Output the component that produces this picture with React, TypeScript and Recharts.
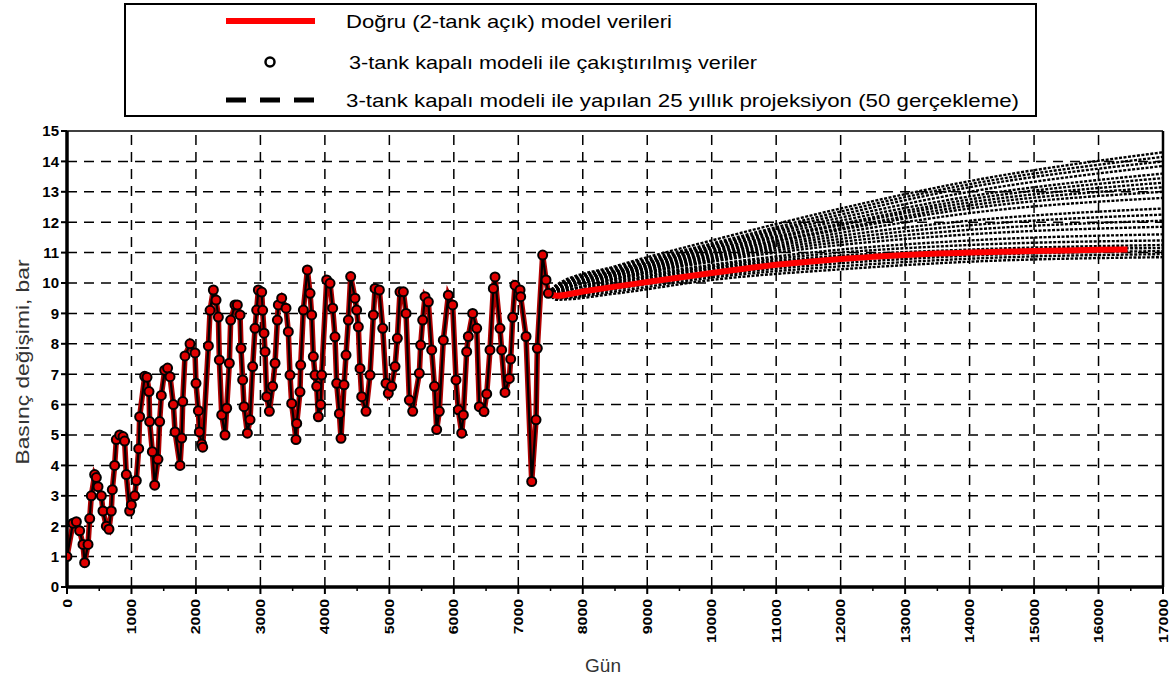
import React from 'react';
import { LineChart, Line, XAxis, YAxis, ReferenceLine } from 'recharts';

// ─── Data ─────────────────────────────────────────────────────────────────────

// history: days and pressure change (bar), true model + fitted points
const HISTORY_DAYS = [
  0, 93, 145, 196, 248, 274, 326, 352, 377, 429, 455, 481, 533, 558, 610, 651, 687, 703, 739, 765,
  817, 869, 894, 920, 972, 998, 1050, 1075, 1112, 1127, 1205, 1241, 1272, 1282, 1324, 1360, 1411, 1437, 1463, 1515,
  1560, 1598, 1650, 1676, 1753, 1779, 1795, 1830, 1908, 1986, 2001, 2038, 2053, 2089, 2105, 2193, 2219, 2270, 2312, 2348,
  2363, 2400, 2451, 2477, 2518, 2539, 2606, 2642, 2684, 2699, 2725, 2746, 2798, 2839, 2880, 2916, 2942, 2968, 3020, 3035,
  3056, 3072, 3097, 3139, 3190, 3227, 3263, 3278, 3330, 3397, 3433, 3459, 3485, 3552, 3563, 3614, 3625, 3666, 3728, 3770,
  3795, 3821, 3847, 3873, 3899, 3935, 3950, 4028, 4080, 4121, 4157, 4183, 4225, 4250, 4297, 4328, 4364, 4400, 4467, 4493,
  4519, 4545, 4571, 4638, 4700, 4752, 4778, 4845, 4897, 4948, 4984, 5036, 5088, 5124, 5165, 5217, 5259, 5310, 5362, 5465,
  5486, 5517, 5553, 5605, 5657, 5700, 5734, 5775, 5837, 5915, 5982, 6034, 6070, 6122, 6148, 6199, 6225, 6292, 6355, 6396,
  6468, 6510, 6561, 6613, 6639, 6716, 6742, 6794, 6861, 6882, 6913, 6949, 7027, 7037, 7120, 7208, 7275, 7295, 7378, 7430,
  7466,
];
const HISTORY_BAR = [
  1.0, 2.1, 2.15, 1.85, 1.4, 0.8, 1.4, 2.25, 3.0, 3.7, 3.6, 3.3, 3.0, 2.5, 2.0, 1.9, 2.5, 3.2, 4.0, 4.85,
  5.0, 4.95, 4.8, 3.7, 2.5, 2.7, 3.0, 3.5, 4.55, 5.6, 6.93, 6.9, 6.43, 5.44, 4.45, 3.35, 4.2, 5.44, 6.3, 7.13,
  7.2, 6.92, 6.0, 5.1, 4.0, 4.9, 6.1, 7.6, 8.0, 7.7, 6.7, 5.8, 5.1, 4.7, 4.6, 7.93, 9.1, 9.77, 9.44, 8.88,
  7.47, 5.66, 5.0, 5.88, 7.36, 8.78, 9.28, 9.28, 8.95, 7.85, 6.81, 5.93, 5.06, 5.5, 7.25, 8.51, 9.11, 9.77, 9.7, 9.1,
  8.35, 7.74, 6.26, 5.78, 6.6, 7.36, 8.78, 9.28, 9.5, 9.17, 8.4, 6.97, 6.04, 4.85, 5.38, 6.42, 7.3, 9.11, 10.43, 9.66,
  8.95, 7.58, 6.97, 6.6, 5.6, 6.0, 6.97, 10.1, 9.99, 9.17, 8.23, 6.7, 5.7, 4.89, 6.65, 7.63, 8.78, 10.21, 9.5, 9.11,
  8.56, 7.19, 6.26, 5.78, 6.97, 8.95, 9.82, 9.77, 8.51, 6.7, 6.37, 6.6, 7.25, 8.18, 9.71, 9.71, 9.0, 6.15, 5.78, 7.03,
  7.96, 8.78, 9.55, 9.38, 7.8, 6.6, 5.18, 5.78, 8.12, 9.6, 9.28, 6.81, 5.83, 5.06, 5.66, 7.74, 8.24, 9.0, 8.51, 5.93,
  5.77, 6.35, 7.8, 9.82, 10.2, 8.51, 7.8, 6.4, 6.86, 7.5, 8.87, 9.93, 9.77, 9.55, 8.24, 3.47, 5.5, 7.85, 10.92, 10.1,
  9.66,
];

// true (2-tank open) model after history
const TRUE_DAYS = [
  7466, 7600, 8000, 8500, 9000, 9500, 10000, 10500, 11000, 11500,
  12000, 12500, 13000, 13500, 14000, 14500, 15000, 15500, 16000, 16450,
];
const TRUE_BAR = [
  9.66, 9.58, 9.72, 9.88, 10.03, 10.18, 10.33, 10.47, 10.6, 10.7,
  10.79, 10.86, 10.92, 10.97, 11.0, 11.03, 11.05, 11.07, 11.09, 11.1,
];

// 3-tank closed model projections (realisations)
const PROJ_DAYS = [7466, 7600, 8500, 10000, 12000, 14000, 17000];
const PROJECTIONS = [
  [9.66, 9.95, 10.55, 11.4, 12.45, 13.35, 14.3],
  [9.66, 9.9, 10.5, 11.3, 12.35, 13.25, 14.15],
  [9.66, 9.9, 10.45, 11.25, 12.25, 13.15, 14.0],
  [9.66, 9.85, 10.4, 11.2, 12.15, 13.0, 13.85],
  [9.66, 9.85, 10.4, 11.15, 12.05, 12.85, 13.6],
  [9.66, 9.8, 10.35, 11.1, 11.95, 12.75, 13.45],
  [9.66, 9.8, 10.35, 11.05, 11.9, 12.65, 13.3],
  [9.66, 9.8, 10.3, 11.0, 11.8, 12.55, 13.15],
  [9.66, 9.75, 10.3, 10.95, 11.75, 12.45, 13.0],
  [9.66, 9.75, 10.25, 10.9, 11.65, 12.3, 12.8],
  [9.66, 9.75, 10.25, 10.85, 11.55, 12.05, 12.45],
  [9.66, 9.7, 10.2, 10.8, 11.45, 11.9, 12.25],
  [9.66, 9.7, 10.15, 10.75, 11.35, 11.75, 12.05],
  [9.66, 9.7, 10.15, 10.7, 11.25, 11.6, 11.85],
  [9.66, 9.65, 10.1, 10.6, 11.1, 11.4, 11.6],
  [9.66, 9.65, 10.05, 10.55, 11.0, 11.25, 11.4],
  [9.66, 9.6, 10.0, 10.5, 10.9, 11.1, 11.25],
  [9.66, 9.6, 9.95, 10.45, 10.85, 11.05, 11.15],
  [9.66, 9.52, 9.8, 10.25, 10.65, 10.9, 11.05],
  [9.66, 9.5, 9.72, 10.18, 10.55, 10.8, 10.95],
  [9.66, 9.45, 9.65, 10.1, 10.45, 10.7, 10.85],
];

const X_TICKS = [
  0, 500, 1000, 1500, 2000, 2500, 3000, 3500, 4000, 4500, 5000, 5500, 6000, 6500, 7000, 7500, 8000, 8500,
  9000, 9500, 10000, 10500, 11000, 11500, 12000, 12500, 13000, 13500, 14000, 14500, 15000, 15500, 16000, 16500, 17000,
];
const X_GRID = [1000, 2000, 3000, 4000, 5000, 6000, 7000, 8000, 9000, 10000, 11000, 12000, 13000, 14000, 15000, 16000];
const Y_TICKS = [0, 1, 2, 3, 4, 5, 6, 7, 8, 9, 10, 11, 12, 13, 14, 15];
const Y_GRID = [1, 2, 3, 4, 5, 6, 7, 8, 9, 10, 11, 12, 13, 14];

const history = HISTORY_DAYS.map((d, i) => ({ day: d, p: HISTORY_BAR[i] }));
const trueForecast = TRUE_DAYS.map((d, i) => ({ day: d, p: TRUE_BAR[i] }));
const projections = PROJECTIONS.map((row) => row.map((v, i) => ({ day: PROJ_DAYS[i], p: v })));

const FONT = "Arial, 'Liberation Sans', sans-serif";

// ─── Ticks / dots ─────────────────────────────────────────────────────────────

function DayTick({ x, y, payload }: any) {
  const v = payload.value as number;
  const major = v % 1000 === 0;
  const s = String(v);
  const ty = y + 12;
  return (
    <g>
      <line x1={x} y1={y} x2={x} y2={y + (major ? 7 : 4)} stroke="#000" strokeWidth={major ? 2 : 1.5} />
      {major && (
        <text x={x} y={ty} transform={`rotate(-90 ${x} ${ty})`} textAnchor="end" dominantBaseline="central"
              fontSize={13} fontWeight="bold" fill="#000" textLength={s.length * 8.8} lengthAdjust="spacingAndGlyphs">
          {s}
        </text>
      )}
    </g>
  );
}

function PointDot({ cx, cy }: any) {
  if (cx == null || cy == null) return null;
  return <circle cx={cx} cy={cy} r={4.5} fill="#e00000" stroke="#000" strokeWidth={2} />;
}

// ─── Legend + axis titles overlay ─────────────────────────────────────────────

function Overlay() {
  return (
    <svg width={1169} height={681} style={{ position: 'absolute', left: 0, top: 0, pointerEvents: 'none' }}>
      <rect x={125} y={4} width={911} height={112} fill="none" stroke="#000" strokeWidth={2} />
      <line x1={226} y1={21} x2={315} y2={21} stroke="#ff0000" strokeWidth={6} />
      <text x={346} y={21} dominantBaseline="central" fontSize={19} fill="#000" textLength={326} lengthAdjust="spacingAndGlyphs">
        Doğru (2-tank  açık) model verileri
      </text>
      <circle cx={270} cy={62} r={4.5} fill="#fff" stroke="#000" strokeWidth={2.5} />
      <text x={349} y={62} dominantBaseline="central" fontSize={19} fill="#000" textLength={408} lengthAdjust="spacingAndGlyphs">
        3-tank kapalı modeli ile çakıştırılmış veriler
      </text>
      <line x1={226} y1={100} x2={315} y2={100} stroke="#000" strokeWidth={5} strokeDasharray="20 14" />
      <text x={346} y={100} dominantBaseline="central" fontSize={19} fill="#000" textLength={673} lengthAdjust="spacingAndGlyphs">
        3-tank kapalı modeli ile yapılan 25 yıllık projeksiyon (50 gerçekleme)
      </text>
      <text x={603} y={665} textAnchor="middle" dominantBaseline="central" fontSize={19} fill="#333">Gün</text>
      <text x={22} y={362} transform="rotate(-90 22 362)" textAnchor="middle" dominantBaseline="central"
            fontSize={19} fill="#333" textLength={205} lengthAdjust="spacingAndGlyphs">
        Basınç değişimi, bar
      </text>
    </svg>
  );
}

// ─── Chart ────────────────────────────────────────────────────────────────────

export default function App() {
  return (
    <div style={{ position: 'absolute', left: 0, top: 0, width: 1169, height: 681, background: '#fff', fontFamily: FONT }}>
      <LineChart width={1169} height={681} margin={{ top: 131, right: 6, left: 0, bottom: 0 }}>
        <XAxis dataKey="day" type="number" domain={[0, 17000]} ticks={X_TICKS} interval={0}
               height={94} tick={<DayTick />} tickLine={false} tickSize={0} tickMargin={0}
               axisLine={{ stroke: '#000', strokeWidth: 3.5 }} allowDataOverflow />
        <YAxis type="number" domain={[0, 15]} ticks={Y_TICKS} interval={0} width={67}
               tick={{ fill: '#000', fontSize: 15, fontWeight: 'bold' }} tickSize={6}
               tickLine={{ stroke: '#000', strokeWidth: 2 }} axisLine={{ stroke: '#000', strokeWidth: 3.5 }} />

        {Y_GRID.map((v) => (
          <ReferenceLine key={'gy' + v} y={v} stroke="#000" strokeWidth={1.5} strokeDasharray="10 7" />
        ))}
        {X_GRID.map((v) => (
          <ReferenceLine key={'gx' + v} x={v} stroke="#000" strokeWidth={1.5} strokeDasharray="10 7" />
        ))}
        <ReferenceLine y={15} stroke="#000" strokeWidth={1.5} />
        <ReferenceLine x={17000} stroke="#000" strokeWidth={2.5} />

        <Line data={history} dataKey="p" type="linear" stroke="#b00000" strokeWidth={5.5}
              dot={false} activeDot={false} isAnimationActive={false} />
        <Line data={history} dataKey="p" type="linear" stroke="#000" strokeWidth={2.2}
              dot={<PointDot />} activeDot={false} isAnimationActive={false} />

        {projections.map((rows, i) => (
          <Line key={'proj' + i} data={rows} dataKey="p" type="monotone" stroke="#000" strokeWidth={2.4}
                strokeDasharray="3 1.5" dot={false} activeDot={false} isAnimationActive={false} />
        ))}

        <Line data={trueForecast} dataKey="p" type="monotone" stroke="#ff0000" strokeWidth={6}
              dot={false} activeDot={false} isAnimationActive={false} />
      </LineChart>
      <Overlay />
    </div>
  );
}
